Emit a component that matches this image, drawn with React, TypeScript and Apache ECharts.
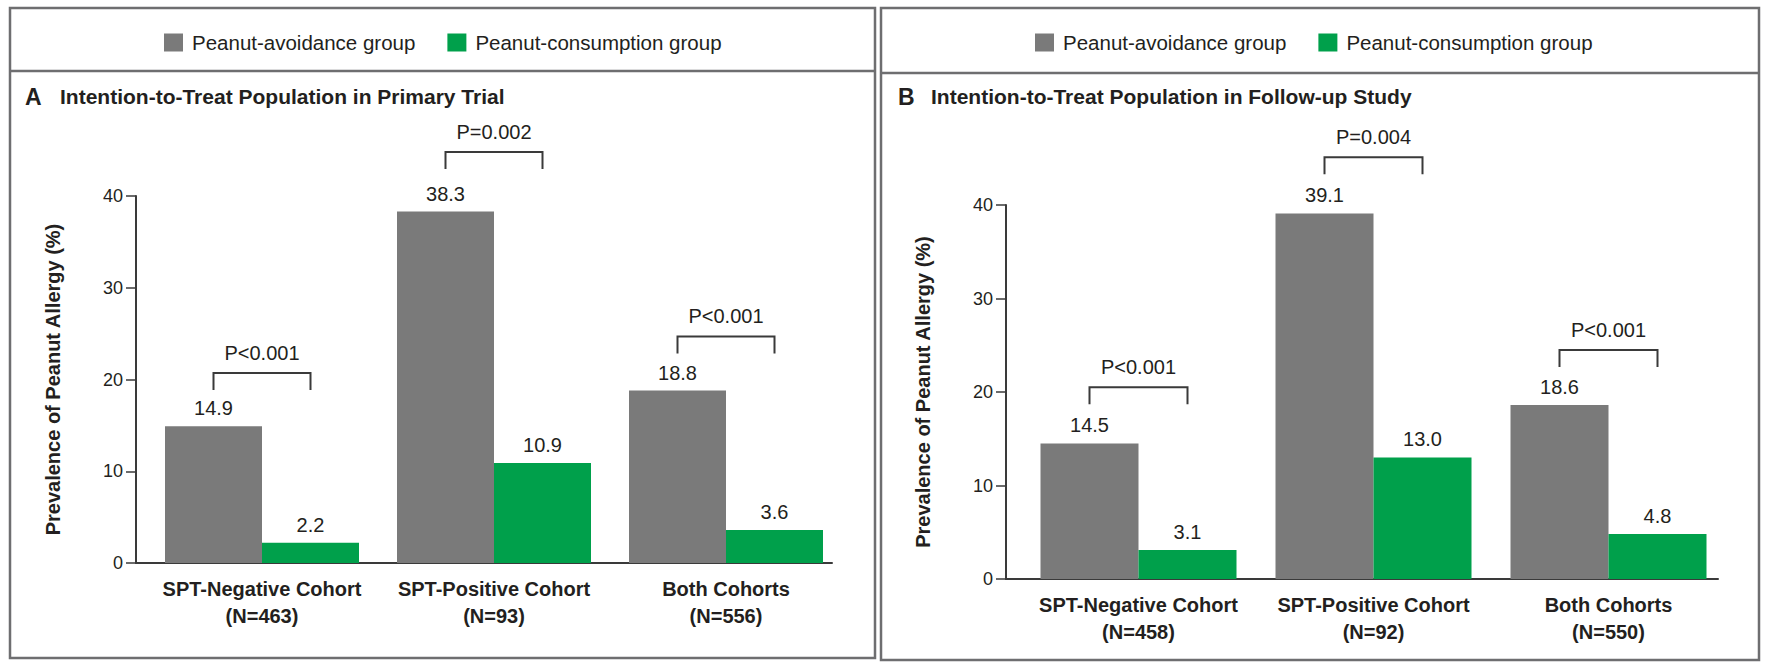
import React, { useEffect, useRef } from "react";
import * as echarts from "echarts";

// ---- data ----
const cohorts = ["SPT-Negative Cohort", "SPT-Positive Cohort", "Both Cohorts"];
const nPrimary = [463, 93, 556];
const nFollow = [458, 92, 550];
const seriesNames = ["Peanut-avoidance group", "Peanut-consumption group"];
const avoidPrimary = [14.9, 38.3, 18.8];
const consumePrimary = [2.2, 10.9, 3.6];
const avoidFollow = [14.5, 39.1, 18.6];
const consumeFollow = [3.1, 13.0, 4.8];
const pPrimary = ["P<0.001", "P=0.002", "P<0.001"];
const pFollow = ["P<0.001", "P=0.004", "P<0.001"];
const bracketPrimary = [20.7, 44.8, 24.7];
const bracketFollow = [20.5, 45.1, 24.5];
const yMin = 0;
const yMax = 40;
const yInterval = 10;
const panelLetters = ["A", "B"];
const panelTitles = [
  "Intention-to-Treat Population in Primary Trial",
  "Intention-to-Treat Population in Follow-up Study",
];
const yTitle = "Prevalence of Peanut Allergy (%)";

// ---- style ----
const FONT = "'Liberation Sans', Arial, sans-serif";
const TXT = "#231f20";
const AX = "#3a3a3a";
const GRAY = "#7a7a7a";
const GREEN = "#00a04b";
const FRAME = "#6e6e70";

const panels = [
  {
    axisLeft: 136, axisWidth: 696, barLeft: 146, barGridWidth: 696,
    top: 196, height: 367, barW: 97, nameGap: 73,
    avoid: avoidPrimary, consume: consumePrimary, n: nPrimary,
    p: pPrimary, bracket: bracketPrimary,
    letterX: 25, titleX: 60, legendX: 164,
  },
  {
    axisLeft: 1006, axisWidth: 712, barLeft: 1021, barGridWidth: 705,
    top: 205, height: 374, barW: 98, nameGap: 73,
    avoid: avoidFollow, consume: consumeFollow, n: nFollow,
    p: pFollow, bracket: bracketFollow,
    letterX: 898, titleX: 931, legendX: 1035,
  },
];

function buildOption() {
  const grid: any[] = [];
  const xAxis: any[] = [];
  const yAxis: any[] = [];
  const series: any[] = [];
  const title: any[] = [];
  const legend: any[] = [];

  panels.forEach((pn, pi) => {
    const gAxis = pi * 2;
    const gBar = pi * 2 + 1;
    grid.push({ left: pn.axisLeft, width: pn.axisWidth, top: pn.top, height: pn.height });
    grid.push({ left: pn.barLeft, width: pn.barGridWidth, top: pn.top, height: pn.height });

    xAxis.push({
      type: "category", gridIndex: gAxis, data: cohorts,
      axisLine: { show: true, lineStyle: { color: AX, width: 2 } },
      axisTick: { show: false }, axisLabel: { show: false }, splitLine: { show: false },
    });
    xAxis.push({
      type: "category", gridIndex: gBar,
      data: cohorts.map((c, i) => `${c}\n(N=${pn.n[i]})`),
      axisLine: { show: false }, axisTick: { show: false },
      axisLabel: {
        fontSize: 20, fontWeight: "bold", lineHeight: 27, margin: 12,
        color: TXT, fontFamily: FONT, interval: 0,
      },
    });
    yAxis.push({
      type: "value", gridIndex: gAxis, min: yMin, max: yMax, interval: yInterval,
      axisLine: { show: true, lineStyle: { color: AX, width: 2 } },
      axisTick: { show: true, length: 10, lineStyle: { color: AX, width: 1.5 } },
      axisLabel: { fontSize: 18, margin: 13, color: TXT, fontFamily: FONT },
      splitLine: { show: false },
      name: yTitle, nameLocation: "middle", nameGap: pn.nameGap,
      nameTextStyle: { fontSize: 20, fontWeight: "bold", color: TXT, fontFamily: FONT },
    });
    yAxis.push({
      type: "value", gridIndex: gBar, min: yMin, max: yMax, interval: yInterval,
      show: false, splitLine: { show: false },
    });

    const labelCfg = {
      show: true, position: "top", distance: 8, fontSize: 20, color: TXT,
      fontFamily: FONT, formatter: (p: any) => Number(p.value).toFixed(1),
    };
    series.push({
      name: seriesNames[0], type: "bar", xAxisIndex: gBar, yAxisIndex: gBar,
      data: pn.avoid, barWidth: pn.barW, barGap: "0%",
      itemStyle: { color: GRAY }, label: labelCfg,
    });
    series.push({
      name: seriesNames[1], type: "bar", xAxisIndex: gBar, yAxisIndex: gBar,
      data: pn.consume, barWidth: pn.barW, barGap: "0%",
      itemStyle: { color: GREEN }, label: labelCfg,
    });
    const half = pn.barW / 2;
    const pLabels = pn.p;
    series.push({
      type: "custom", xAxisIndex: gBar, yAxisIndex: gBar,
      data: pn.bracket.map((h, i) => [i, h]),
      encode: { x: 0, y: 1 },
      clip: false,
      renderItem: (params: any, api: any) => {
        const c = api.coord([api.value(0), api.value(1)]);
        const leg = 17;
        return {
          type: "group",
          children: [
            {
              type: "polyline",
              shape: {
                points: [
                  [c[0] - half, c[1] + leg], [c[0] - half, c[1]],
                  [c[0] + half, c[1]], [c[0] + half, c[1] + leg],
                ],
              },
              style: { stroke: AX, lineWidth: 2, fill: "none" },
            },
            {
              type: "text",
              x: c[0], y: c[1] - 20,
              style: {
                text: pLabels[params.dataIndex], fill: TXT, fontSize: 20,
                fontFamily: FONT, align: "center", verticalAlign: "middle",
              },
            },
          ],
        };
      },
    });

    title.push({
      text: panelLetters[pi], left: pn.letterX, top: 85, padding: 0,
      textStyle: { fontSize: 23, fontWeight: "bold", color: TXT, fontFamily: FONT },
    });
    title.push({
      text: panelTitles[pi], left: pn.titleX, top: 86, padding: 0,
      textStyle: { fontSize: 21, fontWeight: "bold", color: TXT, fontFamily: FONT },
    });
    legend.push({
      data: seriesNames, left: pn.legendX, top: 32, padding: 0,
      icon: "rect", itemWidth: 19, itemHeight: 18, itemGap: 32,
      selectedMode: false,
      textStyle: { fontSize: 20.5, color: TXT, fontFamily: FONT, padding: [0, 0, 0, 4] },
    });
  });

  const graphic = [
    { type: "rect", shape: { x: 10, y: 8, width: 865, height: 650 }, style: { fill: "none", stroke: FRAME, lineWidth: 2.5 } },
    { type: "line", shape: { x1: 10, y1: 71, x2: 875, y2: 71 }, style: { stroke: FRAME, lineWidth: 2.5 } },
    { type: "rect", shape: { x: 881, y: 8, width: 878, height: 652 }, style: { fill: "none", stroke: FRAME, lineWidth: 2.5 } },
    { type: "line", shape: { x1: 881, y1: 73, x2: 1759, y2: 73 }, style: { stroke: FRAME, lineWidth: 2.5 } },
  ];

  return {
    animation: false,
    backgroundColor: "#ffffff",
    textStyle: { fontFamily: FONT },
    title, legend, grid, xAxis, yAxis, series, graphic,
  };
}

export default function App() {
  const ref = useRef<HTMLDivElement>(null);
  useEffect(() => {
    const chart = echarts.init(ref.current!, null, { renderer: "svg" });
    chart.setOption(buildOption() as any);
    return () => chart.dispose();
  }, []);
  return (
    <div
      ref={ref}
      style={{ position: "fixed", left: 0, top: 0, width: 1765, height: 665, background: "#fff" }}
    />
  );
}
